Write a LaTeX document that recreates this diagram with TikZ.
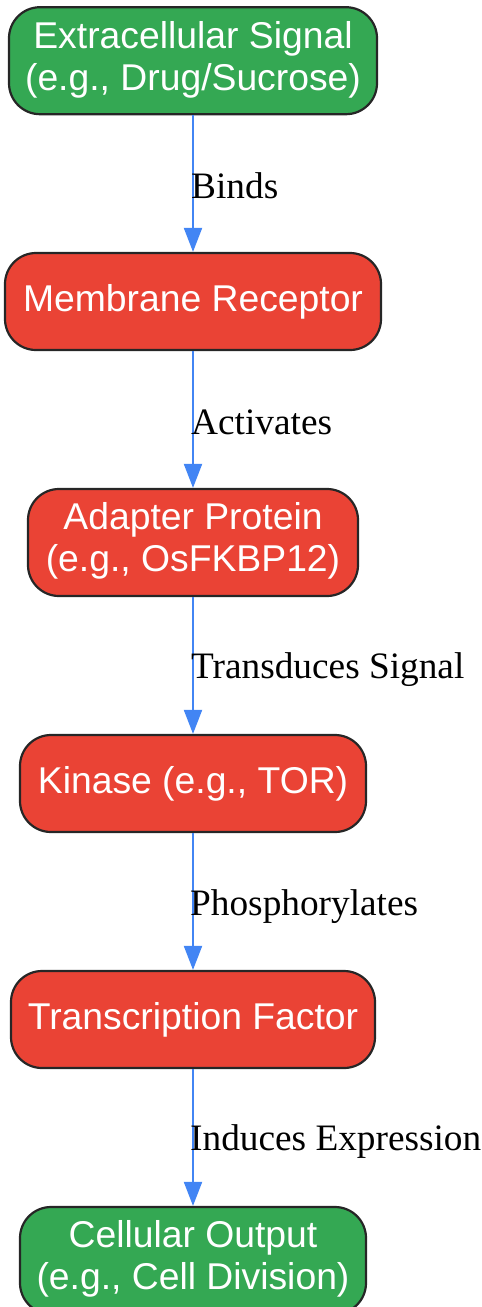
\documentclass[tikz,border=0pt]{standalone}
\usepackage{fontspec}
\setmainfont{Liberation Serif}
\newfontfamily\nodefont{Liberation Sans}
\usetikzlibrary{arrows.meta}
\definecolor{gfill}{HTML}{34A853}
\definecolor{rfill}{HTML}{EA4335}
\definecolor{arrblue}{HTML}{4285F4}
\definecolor{bordergray}{HTML}{262626}
\newcommand{\twoline}[2]{\raisebox{-6pt}{\begin{tabular}{@{}c@{}}#1\\#2\end{tabular}}}
\newcommand{\oneline}[1]{\raisebox{-4pt}{#1}}
\tikzset{
  box/.style={draw=bordergray, line width=2.2pt, rounded corners=31pt, inner sep=0pt,
    align=center, text=white, font=\nodefont\fontsize{37.3}{42}\selectfont},
  greenbox/.style={box, fill=gfill},
  redbox/.style={box, fill=rfill},
  arr/.style={draw=arrblue, line width=2pt, -{Triangle[length=24pt,width=18pt]}},
  lbl/.style={inner sep=0pt, anchor=base west, font=\fontsize{37.3}{42}\selectfont}
}
\begin{document}
\begin{tikzpicture}[x=1pt,y=1pt]
\useasboundingbox (0,0) rectangle (482,-1307);
\node[greenbox, minimum width=368pt, minimum height=107pt] (n1) at (193,-60.7) {\twoline{Extracellular Signal}{(e.g., Drug/Sucrose)}};
\node[redbox, minimum width=376pt, minimum height=97pt] (n2) at (193,-301.5) {\oneline{Membrane Receptor}};
\node[redbox, minimum width=330pt, minimum height=107pt] (n3) at (193,-542.5) {\twoline{Adapter Protein}{(e.g., OsFKBP12)}};
\node[redbox, minimum width=346pt, minimum height=97pt] (n4) at (193,-783.5) {\oneline{Kinase (e.g., TOR)}};
\node[redbox, minimum width=364pt, minimum height=97pt] (n5) at (193,-1019.5) {\oneline{Transcription Factor}};
\node[greenbox, minimum width=346pt, minimum height=107pt] (n6) at (193,-1260.5) {\twoline{Cellular Output}{(e.g., Cell Division)}};
\draw[arr] (n1.south) -- (n2.north);
\draw[arr] (n2.south) -- (n3.north);
\draw[arr] (n3.south) -- (n4.north);
\draw[arr] (n4.south) -- (n5.north);
\draw[arr] (n5.south) -- (n6.north);
\node[lbl] (l1) at (191,-198) {Binds};
\node[lbl] (l2) at (191,-434) {Activates};
\node[lbl] (l3) at (191,-678) {Transduces Signal};
\node[lbl] (l4) at (190,-915) {Phosphorylates};
\node[lbl] (l5) at (190,-1150) {Induces Expression};
\end{tikzpicture}
\end{document}
